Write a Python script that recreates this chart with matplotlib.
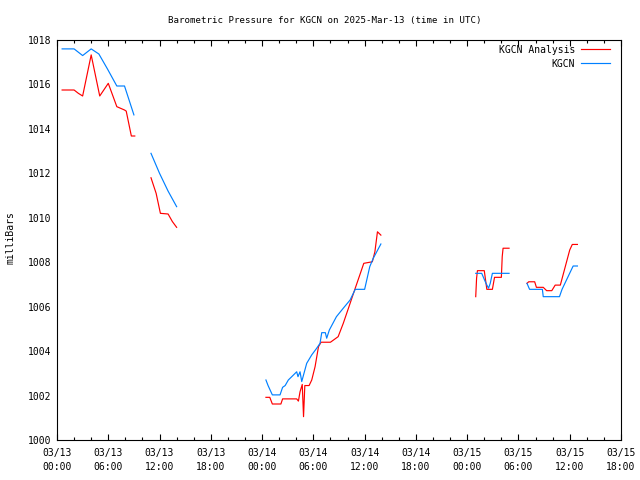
import numpy as np
import pandas as pd
import matplotlib
matplotlib.use('Agg')
import matplotlib.pyplot as plt
import matplotlib.dates as mdates

plt.rcParams['font.family'] = 'DejaVu Sans Mono'
plt.rcParams['font.size'] = 7

# hours since 2025-03-13 00:00 UTC, None = gap in the record
analysis_hours = [0.6, 2.0, 2.5, 3.0, 4.0, 5.0, 6.0, 7.0, 7.9, 8.1, 8.7, 9.1, None,
                  11.0, 11.6, 12.1, 13.0, 13.5, 14.0, None,
                  24.45, 24.9, 25.2, 26.2, 26.4, 28.05, 28.25, 28.44, 28.7, 28.85, 29.0, 29.5,
                  29.81, 30.2, 30.6, 30.9, 32.0, 32.9, 33.5, 34.3, 34.9, 35.5, 35.9, 36.9,
                  37.2, 37.5, 37.9, None,
                  49.0, 49.1, 49.2, 50.0, 50.3, 50.95, 51.2, 52.0, 52.1, 52.2, 52.9, None,
                  55.0, 55.2, 55.9, 56.1, 56.9, 57.3, 57.9, 58.3, 58.9, 60.0, 60.3, 60.9]
analysis_mb = [1015.75, 1015.75, 1015.6, 1015.48, 1017.33, 1015.48, 1016.05, 1015.0, 1014.85, 1014.8, 1013.68, 1013.68, None,
               1011.8, 1011.1, 1010.2, 1010.17, 1009.83, 1009.57, None,
               1001.92, 1001.92, 1001.62, 1001.62, 1001.85, 1001.85, 1001.75, 1002.17, 1002.5, 1001.05, 1002.45, 1002.45,
               1002.7, 1003.3, 1004.2, 1004.4, 1004.4, 1004.65, 1005.25, 1006.15, 1006.83, 1007.5, 1007.95, 1008.02,
               1008.47, 1009.37, 1009.22, None,
               1006.45, 1007.28, 1007.62, 1007.62, 1006.78, 1006.78, 1007.32, 1007.32, 1008.25, 1008.63, 1008.63, None,
               1007.05, 1007.12, 1007.12, 1006.87, 1006.87, 1006.72, 1006.72, 1006.97, 1006.97, 1008.55, 1008.8, 1008.8]

station_hours = [0.6, 2.0, 3.0, 4.0, 4.9, 5.9, 7.0, 7.9, 9.0, None,
                 11.0, 12.0, 13.0, 14.0, None,
                 24.45, 24.7, 25.2, 26.1, 26.4, 26.7, 27.07, 27.47, 28.05, 28.2, 28.44, 28.64, 29.22,
                 29.81, 30.39, 30.78, 30.98, 31.4, 31.56, 31.87, 32.7, 33.5, 34.3, 34.9, 36.0,
                 36.6, 37.0, 37.9, None,
                 49.0, 49.7, 50.2, 50.5, 50.7, 50.95, 52.9, None,
                 55.0, 55.3, 56.8, 56.9, 58.8, 59.1, 60.4, 60.9]
station_mb = [1017.6, 1017.6, 1017.3, 1017.6, 1017.37, 1016.7, 1015.93, 1015.93, 1014.63, None,
              1012.9, 1012.0, 1011.2, 1010.5, None,
              1002.7, 1002.45, 1002.03, 1002.03, 1002.37, 1002.45, 1002.7, 1002.85, 1003.07, 1002.85, 1003.07, 1002.63, 1003.45,
              1003.83, 1004.13, 1004.35, 1004.83, 1004.83, 1004.58, 1004.95, 1005.55, 1005.93, 1006.3, 1006.78, 1006.78,
              1007.8, 1008.17, 1008.82, None,
              1007.5, 1007.5, 1007.05, 1006.83, 1007.05, 1007.5, 1007.5, None,
              1007.05, 1006.78, 1006.78, 1006.45, 1006.45, 1006.78, 1007.83, 1007.83]

start = pd.Timestamp('2025-03-13 00:00')


def segments(hours, vals):
    """Split the record at the None gaps."""
    seg_t, seg_v = [], []
    for h, v in zip(hours, vals):
        if h is None:
            yield seg_t, seg_v
            seg_t, seg_v = [], []
        else:
            seg_t.append(start + pd.Timedelta(hours=h))
            seg_v.append(v)
    if seg_t:
        yield seg_t, seg_v


fig = plt.figure(figsize=(6.4, 4.8), dpi=100)
ax = fig.add_axes([57 / 640, 40 / 480, 564 / 640, 400 / 480])

for i, (t, v) in enumerate(segments(analysis_hours, analysis_mb)):
    ax.plot(t, v, color='#ff0000', lw=0.85, label='KGCN Analysis' if i == 0 else None)
for i, (t, v) in enumerate(segments(station_hours, station_mb)):
    ax.plot(t, v, color='#0080ff', lw=0.85, label='KGCN' if i == 0 else None)

ax.set_xlim(start, start + pd.Timedelta(hours=66))
ax.set_ylim(1000, 1018)
ax.set_yticks(np.arange(1000, 1019, 2))

ax.xaxis.set_major_locator(mdates.HourLocator(byhour=[0, 6, 12, 18]))
ax.xaxis.set_minor_locator(mdates.HourLocator(byhour=range(0, 24, 2)))
ax.xaxis.set_major_formatter(mdates.DateFormatter('%m/%d\n%H:%M'))

ax.tick_params(axis='x', which='major', direction='in', length=4, width=0.8, top=True, pad=6)
ax.tick_params(axis='x', which='minor', direction='in', length=2, width=0.8, top=True)
ax.tick_params(axis='y', length=0, pad=4)
for lab in ax.get_xticklabels():
    lab.set_linespacing(1.5)
for sp in ax.spines.values():
    sp.set_linewidth(0.8)

ax.legend(loc='upper right', bbox_to_anchor=(0.991, 1.003), frameon=False, markerfirst=False,
          handlelength=3.0, handletextpad=0.6, labelspacing=0.4, borderaxespad=0.2, fontsize=7)

fig.text(325 / 640, 1 - 20 / 480, 'Barometric Pressure for KGCN on 2025-Mar-13 (time in UTC)',
         ha='center', va='center', fontsize=6.6)
fig.text(11 / 640, 0.506, 'milliBars', rotation=90, ha='center', va='center', fontsize=7)

fig.savefig('out.png', dpi=100)
